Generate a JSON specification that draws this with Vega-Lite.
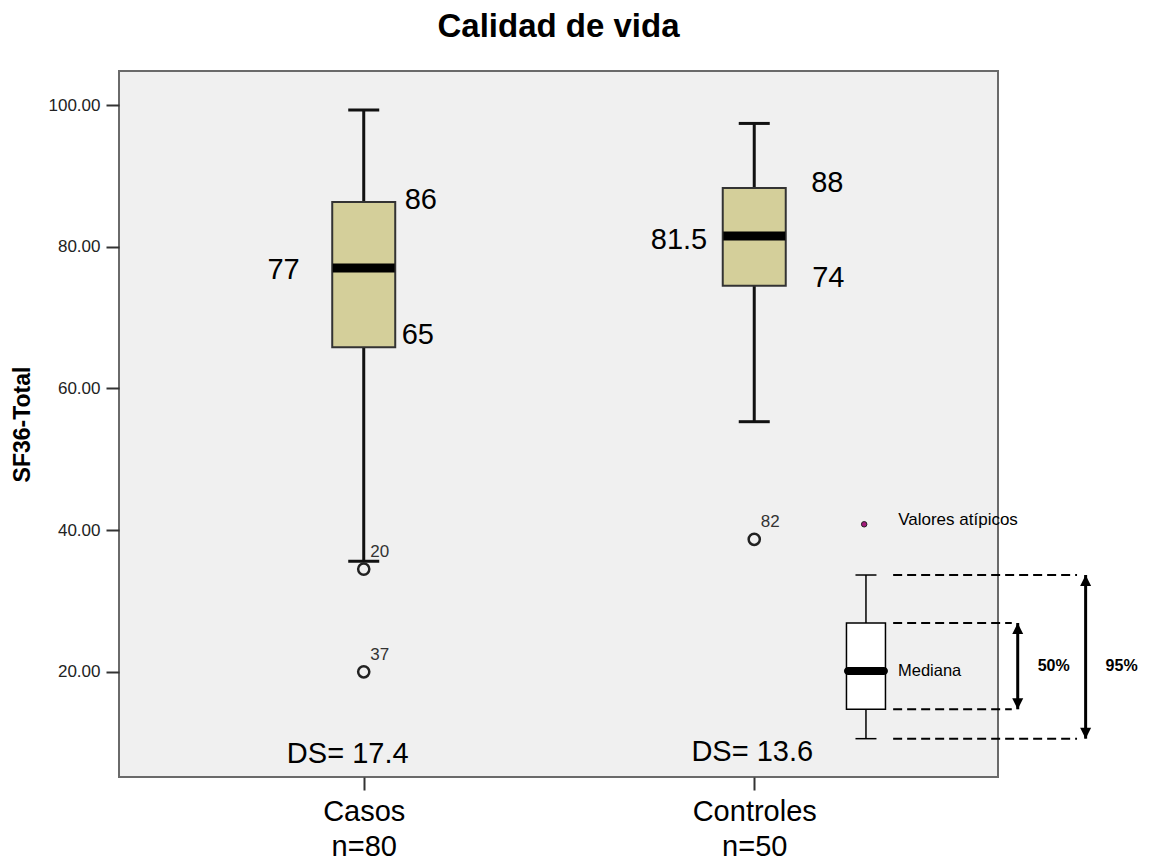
{
  "$schema": "https://vega.github.io/schema/vega-lite/v6.json",
  "width": 879,
  "height": 706,
  "autosize": {"type": "none"},
  "padding": {"left": 119, "top": 71, "right": 159, "bottom": 86},
  "background": "white",
  "title": {"text": "Calidad de vida", "fontSize": 33, "font": "Liberation Sans", "fontWeight": "bold", "color": "#000", "anchor": "middle", "frame": "group", "baseline": "alphabetic", "offset": 1},
  "config": {
    "font": "Liberation Sans",
    "view": {"fill": "#f0f0f0", "stroke": "#6a6a6a", "strokeWidth": 2},
    "axis": {"grid": false, "domain": false, "tickColor": "#333", "tickWidth": 2, "tickSize": 13, "labelFont": "Liberation Sans", "titleFont": "Liberation Sans", "labelOverlap": false, "labelBound": false},
    "axisY": {"labelFontSize": 17, "labelColor": "#222", "labelPadding": 6, "titleFontSize": 23, "titleFontWeight": "bold", "titleColor": "#000", "titlePadding": 14},
    "axisX": {"labelFontSize": 29, "labelColor": "#000", "labelPadding": 7, "labelLineHeight": 35, "labelFlush": false}
  },
  "datasets": {
    "grupos": [
      {"grupo": 1, "nombre": "Casos", "n": 80, "min": 35.6, "q1": 65.8, "mediana": 77.0, "q3": 86.3, "max": 99.3, "et_q1": "65", "et_mediana": "77", "et_q3": "86", "ds": "DS= 17.4"},
      {"grupo": 2, "nombre": "Controles", "n": 50, "min": 55.3, "q1": 74.5, "mediana": 81.5, "q3": 88.3, "max": 97.4, "et_q1": "74", "et_mediana": "81.5", "et_q3": "88", "ds": "DS= 13.6"}
    ],
    "atipicos": [
      {"grupo": 1, "valor": 34.5, "caso": "20"},
      {"grupo": 1, "valor": 20.0, "caso": "37"},
      {"grupo": 2, "valor": 38.7, "caso": "82"}
    ],
    "leyenda_caja": [
      {"x": 2.2861, "min": 10.56, "q1": 14.71, "mediana": 20.11, "q3": 26.89, "max": 33.66}
    ],
    "leyenda_punto": [
      {"x": 2.2815, "y": 40.82, "texto": "Valores atípicos"}
    ],
    "leyenda_guias": [
      {"y": 33.66, "x_ini": 2.3557, "x_fin": 2.8266},
      {"y": 26.89, "x_ini": 2.3557, "x_fin": 2.6595},
      {"y": 14.71, "x_ini": 2.3557, "x_fin": 2.6595},
      {"y": 10.56, "x_ini": 2.3557, "x_fin": 2.8266}
    ],
    "leyenda_flechas": [
      {"x": 2.6747, "y_ini": 14.71, "y_fin": 26.89, "texto": "50%"},
      {"x": 2.8486, "y_ini": 10.56, "y_fin": 33.66, "texto": "95%"}
    ]
  },
  "layer": [
    {
      "data": {"name": "grupos"},
      "mark": {"type": "rule", "color": "#111", "strokeWidth": 3},
      "encoding": {
        "x": {"field": "grupo", "type": "quantitative", "scale": {"domain": [0.3861, 2.6114], "nice": false, "zero": false}, "axis": {"title": null, "values": [1, 2], "labelExpr": "datum.value == 1 ? ['Casos', 'n=80'] : ['Controles', 'n=50']"}},
        "y": {"field": "min", "type": "quantitative", "scale": {"domain": [5.15, 104.8], "nice": false, "zero": false}, "axis": {"title": "SF36-Total", "values": [20, 40, 60, 80, 100], "format": ".2f"}},
        "y2": {"field": "max"}
      }
    },
    {
      "data": {"name": "grupos"},
      "mark": {"type": "tick", "orient": "horizontal", "size": 31, "thickness": 3, "color": "#111", "opacity": 1},
      "encoding": {
        "x": {"field": "grupo", "type": "quantitative"},
        "y": {"field": "max", "type": "quantitative"}
      }
    },
    {
      "data": {"name": "grupos"},
      "mark": {"type": "tick", "orient": "horizontal", "size": 31, "thickness": 3, "color": "#111", "opacity": 1},
      "encoding": {
        "x": {"field": "grupo", "type": "quantitative"},
        "y": {"field": "min", "type": "quantitative"}
      }
    },
    {
      "data": {"name": "grupos"},
      "mark": {"type": "bar", "width": 63, "fill": "#d4cf9a", "stroke": "#333", "strokeWidth": 2, "opacity": 1},
      "encoding": {
        "x": {"field": "grupo", "type": "quantitative"},
        "y": {"field": "q1", "type": "quantitative"},
        "y2": {"field": "q3"}
      }
    },
    {
      "data": {"name": "grupos"},
      "mark": {"type": "tick", "orient": "horizontal", "size": 62, "thickness": 9, "color": "#000", "opacity": 1},
      "encoding": {
        "x": {"field": "grupo", "type": "quantitative"},
        "y": {"field": "mediana", "type": "quantitative"}
      }
    },
    {
      "data": {"name": "atipicos"},
      "mark": {"type": "point", "shape": "circle", "filled": false, "size": 125, "stroke": "#222", "strokeWidth": 2.5, "opacity": 1},
      "encoding": {
        "x": {"field": "grupo", "type": "quantitative"},
        "y": {"field": "valor", "type": "quantitative"}
      }
    },
    {
      "data": {"name": "atipicos"},
      "mark": {"type": "text", "fontSize": 17, "color": "#333", "align": "center", "baseline": "middle", "dx": 16, "dy": -17},
      "encoding": {
        "x": {"field": "grupo", "type": "quantitative"},
        "y": {"field": "valor", "type": "quantitative"},
        "text": {"field": "caso"}
      }
    },
    {
      "data": {"name": "grupos"},
      "transform": [{"filter": "datum.grupo == 1"}],
      "mark": {"type": "text", "fontSize": 29, "color": "#000", "align": "left", "baseline": "middle", "dx": 41, "dy": -2},
      "encoding": {
        "x": {"field": "grupo", "type": "quantitative"},
        "y": {"field": "q3", "type": "quantitative"},
        "text": {"field": "et_q3"}
      }
    },
    {
      "data": {"name": "grupos"},
      "transform": [{"filter": "datum.grupo == 1"}],
      "mark": {"type": "text", "fontSize": 29, "color": "#000", "align": "left", "baseline": "middle", "dx": 38, "dy": -12},
      "encoding": {
        "x": {"field": "grupo", "type": "quantitative"},
        "y": {"field": "q1", "type": "quantitative"},
        "text": {"field": "et_q1"}
      }
    },
    {
      "data": {"name": "grupos"},
      "transform": [{"filter": "datum.grupo == 1"}],
      "mark": {"type": "text", "fontSize": 29, "color": "#000", "align": "right", "baseline": "middle", "dx": -64, "dy": 2},
      "encoding": {
        "x": {"field": "grupo", "type": "quantitative"},
        "y": {"field": "mediana", "type": "quantitative"},
        "text": {"field": "et_mediana"}
      }
    },
    {
      "data": {"name": "grupos"},
      "transform": [{"filter": "datum.grupo == 2"}],
      "mark": {"type": "text", "fontSize": 29, "color": "#000", "align": "left", "baseline": "middle", "dx": 57, "dy": -5},
      "encoding": {
        "x": {"field": "grupo", "type": "quantitative"},
        "y": {"field": "q3", "type": "quantitative"},
        "text": {"field": "et_q3"}
      }
    },
    {
      "data": {"name": "grupos"},
      "transform": [{"filter": "datum.grupo == 2"}],
      "mark": {"type": "text", "fontSize": 29, "color": "#000", "align": "left", "baseline": "middle", "dx": 58, "dy": -8},
      "encoding": {
        "x": {"field": "grupo", "type": "quantitative"},
        "y": {"field": "q1", "type": "quantitative"},
        "text": {"field": "et_q1"}
      }
    },
    {
      "data": {"name": "grupos"},
      "transform": [{"filter": "datum.grupo == 2"}],
      "mark": {"type": "text", "fontSize": 29, "color": "#000", "align": "right", "baseline": "middle", "dx": -47, "dy": 4},
      "encoding": {
        "x": {"field": "grupo", "type": "quantitative"},
        "y": {"field": "mediana", "type": "quantitative"},
        "text": {"field": "et_mediana"}
      }
    },
    {
      "data": {"name": "grupos"},
      "transform": [{"filter": "datum.grupo == 1"}],
      "mark": {"type": "text", "fontSize": 29, "color": "#000", "align": "center", "baseline": "middle", "dx": -16, "dy": -23},
      "encoding": {
        "x": {"field": "grupo", "type": "quantitative"},
        "y": {"value": "height"},
        "text": {"field": "ds"}
      }
    },
    {
      "data": {"name": "grupos"},
      "transform": [{"filter": "datum.grupo == 2"}],
      "mark": {"type": "text", "fontSize": 29, "color": "#000", "align": "center", "baseline": "middle", "dx": -2, "dy": -25},
      "encoding": {
        "x": {"field": "grupo", "type": "quantitative"},
        "y": {"value": "height"},
        "text": {"field": "ds"}
      }
    },
    {
      "data": {"name": "leyenda_punto"},
      "mark": {"type": "point", "shape": "circle", "filled": true, "size": 30, "fill": "#a3197a", "stroke": "#222", "strokeWidth": 1, "opacity": 1, "clip": false},
      "encoding": {
        "x": {"field": "x", "type": "quantitative"},
        "y": {"field": "y", "type": "quantitative"}
      }
    },
    {
      "data": {"name": "leyenda_punto"},
      "mark": {"type": "text", "fontSize": 17, "color": "#000", "align": "left", "baseline": "middle", "dx": 34, "dy": -4, "clip": false},
      "encoding": {
        "x": {"field": "x", "type": "quantitative"},
        "y": {"field": "y", "type": "quantitative"},
        "text": {"field": "texto"}
      }
    },
    {
      "data": {"name": "leyenda_caja"},
      "mark": {"type": "rule", "color": "#000", "strokeWidth": 1.5, "clip": false},
      "encoding": {
        "x": {"field": "x", "type": "quantitative"},
        "y": {"field": "min", "type": "quantitative"},
        "y2": {"field": "max"}
      }
    },
    {
      "data": {"name": "leyenda_caja"},
      "mark": {"type": "tick", "orient": "horizontal", "size": 21, "thickness": 1.5, "color": "#000", "opacity": 1, "clip": false},
      "encoding": {
        "x": {"field": "x", "type": "quantitative"},
        "y": {"field": "max", "type": "quantitative"}
      }
    },
    {
      "data": {"name": "leyenda_caja"},
      "mark": {"type": "tick", "orient": "horizontal", "size": 21, "thickness": 1.5, "color": "#000", "opacity": 1, "clip": false},
      "encoding": {
        "x": {"field": "x", "type": "quantitative"},
        "y": {"field": "min", "type": "quantitative"}
      }
    },
    {
      "data": {"name": "leyenda_caja"},
      "mark": {"type": "bar", "width": 39, "fill": "#fff", "stroke": "#000", "strokeWidth": 1.5, "opacity": 1, "clip": false},
      "encoding": {
        "x": {"field": "x", "type": "quantitative"},
        "y": {"field": "q1", "type": "quantitative"},
        "y2": {"field": "q3"}
      }
    },
    {
      "data": {"name": "leyenda_caja"},
      "mark": {"type": "tick", "orient": "horizontal", "size": 44, "thickness": 8, "cornerRadius": 4, "color": "#000", "opacity": 1, "clip": false},
      "encoding": {
        "x": {"field": "x", "type": "quantitative"},
        "y": {"field": "mediana", "type": "quantitative"}
      }
    },
    {
      "data": {"name": "leyenda_caja"},
      "mark": {"type": "text", "text": "Mediana", "fontSize": 16.5, "color": "#000", "align": "left", "baseline": "middle", "dx": 32, "dy": 0, "clip": false},
      "encoding": {
        "x": {"field": "x", "type": "quantitative"},
        "y": {"field": "mediana", "type": "quantitative"}
      }
    },
    {
      "data": {"name": "leyenda_guias"},
      "mark": {"type": "rule", "color": "#000", "strokeWidth": 2, "strokeDash": [9, 5], "clip": false},
      "encoding": {
        "x": {"field": "x_ini", "type": "quantitative"},
        "x2": {"field": "x_fin"},
        "y": {"field": "y", "type": "quantitative"}
      }
    },
    {
      "data": {"name": "leyenda_flechas"},
      "mark": {"type": "rule", "color": "#000", "strokeWidth": 3, "clip": false},
      "encoding": {
        "x": {"field": "x", "type": "quantitative"},
        "y": {"field": "y_ini", "type": "quantitative"},
        "y2": {"field": "y_fin"}
      }
    },
    {
      "data": {"name": "leyenda_flechas"},
      "mark": {"type": "point", "shape": "M0,0L-0.55,1.1L0.55,1.1Z", "filled": true, "size": 400, "color": "#000", "opacity": 1, "clip": false},
      "encoding": {
        "x": {"field": "x", "type": "quantitative"},
        "y": {"field": "y_fin", "type": "quantitative"}
      }
    },
    {
      "data": {"name": "leyenda_flechas"},
      "mark": {"type": "point", "shape": "M0,0L-0.55,-1.1L0.55,-1.1Z", "filled": true, "size": 400, "color": "#000", "opacity": 1, "clip": false},
      "encoding": {
        "x": {"field": "x", "type": "quantitative"},
        "y": {"field": "y_ini", "type": "quantitative"}
      }
    },
    {
      "data": {"name": "leyenda_flechas"},
      "transform": [{"filter": "datum.texto == '50%'"}],
      "mark": {"type": "text", "fontSize": 16, "fontWeight": "bold", "color": "#000", "align": "center", "baseline": "middle", "dx": 36, "dy": -43, "clip": false},
      "encoding": {
        "x": {"field": "x", "type": "quantitative"},
        "y": {"field": "y_ini", "type": "quantitative"},
        "text": {"field": "texto"}
      }
    },
    {
      "data": {"name": "leyenda_flechas"},
      "transform": [{"filter": "datum.texto == '95%'"}],
      "mark": {"type": "text", "fontSize": 16, "fontWeight": "bold", "color": "#000", "align": "center", "baseline": "middle", "dx": 36, "dy": -73, "clip": false},
      "encoding": {
        "x": {"field": "x", "type": "quantitative"},
        "y": {"field": "y_ini", "type": "quantitative"},
        "text": {"field": "texto"}
      }
    }
  ]
}
